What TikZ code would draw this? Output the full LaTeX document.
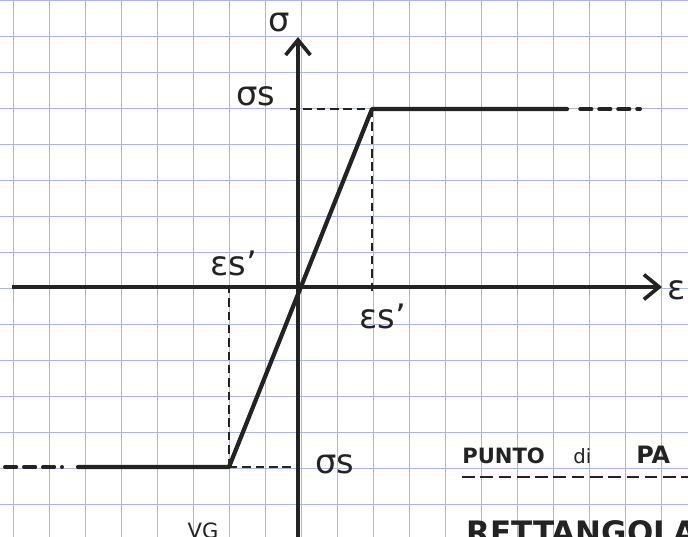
\documentclass[tikz,border=0pt]{standalone}
\usepackage{fontspec}
\setmainfont{DejaVu Sans}
\usetikzlibrary{arrows.meta}

\definecolor{gridblue}{RGB}{172,182,222}
\definecolor{ink}{RGB}{35,35,35}

\begin{document}
\begin{tikzpicture}[x=0.025cm, y=-0.025cm]

% --- Styles ---
\tikzset{
    gridline/.style={draw=gridblue, line width=0.7pt},
    axis/.style={
        -{Straight Barb[length=0.38cm, width=0.62cm]},
        line width=2.6pt,
        draw=ink
    },
    curve/.style={draw=ink, line width=3pt, line join=round, line cap=round},
    guide/.style={draw=ink, line width=1.3pt, dash pattern=on 6pt off 3.5pt},
    taildash/.style={draw=ink, line width=2.8pt, line cap=round, dash pattern=on 8pt off 5.5pt},
    lbl/.style={text=ink, font=\fontsize{24}{24}\selectfont, inner sep=0pt},
    bigtext/.style={text=ink, font=\fontsize{15}{15}\selectfont\bfseries, inner sep=0pt, anchor=base west},
    underline/.style={draw=ink, line width=1.8pt, dash pattern=on 9pt off 4pt}
}

\useasboundingbox (0,0) rectangle (688,537);
\clip (0,0) rectangle (688,537);

% --- Squared paper ---
\foreach \gx in {0,...,18}
    \draw[gridline] ({13+36*\gx},0) -- ({13+36*\gx},537);
\foreach \gy in {0,...,14}
    \draw[gridline] (0,{36*\gy}) -- (688,{36*\gy});

% --- Points of the diagram ---
\coordinate (O) at (298,287);       % origin
\coordinate (yieldT) at (372,109);  % upper yield point
\coordinate (yieldB) at (229,467);  % lower yield point
\coordinate (plateauR) at (567,109);
\coordinate (plateauL) at (78,467);
\coordinate (tailR) at (640,109);
\coordinate (tailL) at (5,467);

% --- Axes ---
\coordinate (xstart) at (12,287);
\coordinate (xend) at (662,287);
\coordinate (ystart) at (298,545);
\coordinate (yend) at (298,37);
\draw[axis] (xstart) -- (xend);
\draw[axis] (ystart) -- (yend);

\node[lbl] (sigma) at (279,23) {σ};
\node[lbl, anchor=west] (eps) at (667,290) {ε};

% --- Guide lines ---
\draw[guide] (O|-yieldT) ++(-8,0) -- (yieldT);
\draw[guide] (yieldT) -- ([yshift=-0.2cm]yieldT|-O);
\draw[guide] (yieldB) -- (yieldB|-O);
\draw[guide] (yieldB) -- (O|-yieldB);

% --- Stress-strain law ---
\draw[curve] (plateauL) -- (yieldB) -- (yieldT) -- (plateauR);
\draw[taildash, shorten <=0.33cm] (plateauR) -- (tailR);
\draw[taildash, shorten >=0.4cm] (tailL) -- (plateauL);

% --- Labels ---
\node[lbl] (sigS) at (256,96) {σs};
\node[lbl] (epsL) at (234,263) {εs'};
\node[lbl] (epsR) at (383,316) {εs'};
\node[lbl] (sigSb) at (335,464) {σs};
\node[lbl, font=\fontsize{15}{15}\selectfont] (vg) at (203,531) {VG};

% --- Notes on the right ---
\node[bigtext] (punto) at (462,463) {PUNTO};
\node[bigtext, font=\fontsize{14}{14}\selectfont] (di) at (573,463) {di};
\node[bigtext, font=\fontsize{17}{17}\selectfont\bfseries] (pa) at (636,463) {PA};
\coordinate (ulstart) at (462,477);
\coordinate (ulend) at (690,477);
\draw[underline] (ulstart) -- (ulend);
\node[bigtext, font=\fontsize{22}{22}\selectfont\bfseries] (rett) at (466,543) {RETTANGOLA};

\end{tikzpicture}
\end{document}
